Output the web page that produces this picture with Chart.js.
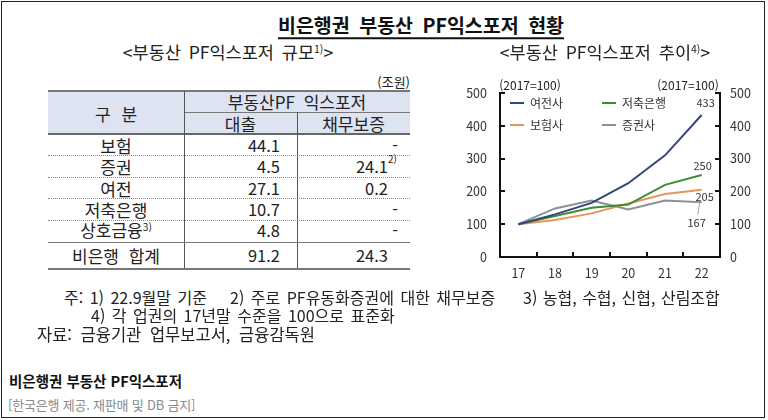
<!DOCTYPE html>
<html lang="ko"><head><meta charset="utf-8">
<script src="https://cdn.jsdelivr.net/npm/chart.js@4.4.0/dist/chart.umd.min.js"></script>
<style>
html,body{margin:0;padding:0;background:#fff;}
body{width:768px;height:420px;position:relative;overflow:hidden;font-family:"Noto Sans CJK KR","Noto Sans",sans-serif;color:#222;}
.frame{position:absolute;left:1px;top:1px;width:762px;height:415px;border:1px solid #222;}
.t{position:absolute;white-space:nowrap;line-height:1;}
.sup{font-size:0.6em;position:relative;top:-0.6em;}
.hang{position:absolute;left:100%;top:-0.35em;font-size:0.6em;}
.ln{position:absolute;}
</style>
</head><body>
<div class="frame"></div>
<canvas id="c" width="320" height="230" style="position:absolute;left:440px;top:60px;width:320px;height:230px"></canvas>
<script>
// ---------- data ----------
const years = ['17','18','19','20','21','22'];
const seriesNames = ['여전사','저축은행','보험사','증권사'];
const yeojeonsa = [100,130,165,225,310,433];
const jeochukBank = [100,125,150,160,220,250];
const boheomsa = [100,113,133,163,192,205];
const jeunggwonsa = [100,148,172,145,172,167];
const yTickValues = [0,100,200,300,400,500];

const tableCategories = ['보험','증권','여전','저축은행','상호금융','비은행 합계'];
const categoryNotes = ['','','','','3)',''];
const loanValues = ['44.1','4.5','27.1','10.7','4.8','91.2'];
const guaranteeValues = ['-','24.1','0.2','-','-','24.3'];
const guaranteeNotes = ['','2)','','','',''];

// ---------- text helpers ----------
function put(html, x, y, o={}){
  const d=document.createElement('div'); d.className='t';
  d.innerHTML=html;
  d.style.fontSize=(o.size||17)+'px';
  d.style.fontWeight=o.weight||400;
  d.style.color=o.color||'#222';
  d.style.left=x+'px'; d.style.top=y+'px';
  const a=o.align||'center';
  const tx=a==='center'?'-50%':(a==='right'?'-100%':'0');
  d.style.transform='translate('+tx+',-50%)';
  if(o.css) d.style.cssText+=o.css;
  document.body.appendChild(d); return d;
}
function line(x,y,w,h,css){
  const d=document.createElement('div'); d.className='ln';
  d.style.left=x+'px'; d.style.top=y+'px'; d.style.width=w+'px'; d.style.height=h+'px';
  d.style.cssText+=css; document.body.appendChild(d);
}

// ---------- titles ----------
put('비은행권 부동산 PF익스포저 현황',421,25,{size:19.5,weight:700,color:'#111',css:'word-spacing:4px;text-decoration:underline;text-underline-offset:4px;text-decoration-thickness:1.5px;'});
put('&lt;부동산 PF익스포저 규모<span class="sup">1)</span>&gt;',228,52,{size:17.5,css:'word-spacing:3px;'});
put('&lt;부동산 PF익스포저 추이<span class="sup">4)</span>&gt;',605,52,{size:17.5,css:'word-spacing:3px;'});
put('(조원)',410,81,{size:13,align:'right'});

// ---------- table ----------
const T={left:48,right:410,top:91,headMid:112,headBottom:134,rowH:21.4,totalTop:242,bottom:268,c1:184,c2:297};
line(T.left,T.top,T.right-T.left,T.headBottom-T.top,'background:#dde3f1;');
line(T.left,T.top-1,T.right-T.left,2,'background:#777;');
line(T.c1,T.headMid,T.right-T.c1,1,'background:#777;');
line(T.left,T.headBottom-1,T.right-T.left,2,'background:#666;');
line(T.c1,T.top,1,T.bottom-T.top,'background:#555;');
line(T.c2,T.headMid,1,T.bottom-T.headMid,'background:#555;');
for(let i=1;i<5;i++){
  line(T.left,Math.round(T.headBottom+i*T.rowH),T.right-T.left,0,'border-top:1px dotted #888;');
}
line(T.left,T.totalTop,T.right-T.left,1,'background:#777;');
line(T.left,T.bottom,T.right-T.left,1.5,'background:#777;');

put('구 분',(T.left+T.c1)/2,113,{size:17,css:'word-spacing:6px;'});
put('부동산PF 익스포저',(T.c1+T.right)/2,101,{size:17,css:'word-spacing:4px;'});
put('대출',(T.c1+T.c2)/2,123,{size:17});
put('채무보증',(T.c2+T.right)/2,123,{size:17});

tableCategories.forEach((cat,i)=>{
  const cy = i<5 ? T.headBottom+(i+0.5)*T.rowH : (T.totalTop+T.bottom)/2;
  const note = categoryNotes[i] ? '<span class="sup">'+categoryNotes[i]+'</span>' : '';
  put(cat+note,(T.left+T.c1)/2,cy,{size:17,css: i===5?'word-spacing:5px;':''});
  put(loanValues[i],280,cy,{size:16.5,align:'right'});
  const g=guaranteeValues[i];
  const gn = guaranteeNotes[i] ? '<span class="hang">'+guaranteeNotes[i]+'</span>' : '';
  put(g+gn, g==='-'?398:388, cy,{size:16.5,align:'right'});
});

// ---------- notes ----------
put('주: 1) 22.9월말 기준',64,297,{size:16,align:'left',css:'word-spacing:2px;'});
put('2) 주로 PF유동화증권에 대한 채무보증',230,297,{size:16,align:'left',css:'word-spacing:2px;'});
put('3) 농협, 수협, 신협, 산림조합',523,297,{size:16,align:'left',css:'word-spacing:1px;'});
put('4) 각 업권의 17년말 수준을 100으로 표준화',91,315,{size:16,align:'left',css:'word-spacing:2px;'});
put('자료: 금융기관 업무보고서, 금융감독원',37,334,{size:16.5,align:'left',css:'word-spacing:4px;'});
put('비은행권 부동산 PF익스포저',9,381,{size:14.5,weight:700,align:'left',color:'#111'});
put('[한국은행 제공. 재판매 및 DB 금지]',8,404,{size:13,align:'left',color:'#8a8a8a',css:'letter-spacing:-0.2px;'});

// ---------- chart ----------
put('(2017=100)',530,85,{size:12});
put('(2017=100)',688,85,{size:12});

const seriesData=[yeojeonsa,jeochukBank,boheomsa,jeunggwonsa];
const seriesColors=['#34467c','#3d8b33','#e8945a','#8d9199'];
const endLabelOffsets=[[4,-12],[1,-9],[3,7],[-5,21]];
const FONT='"Noto Sans CJK KR","Noto Sans",sans-serif';

const decor={
  id:'decor',
  afterDatasetsDraw(chart){
    const {ctx,chartArea:a,scales}=chart;
    const x=scales.x,y=scales.y;
    ctx.save();
    ctx.strokeStyle='#111'; ctx.lineWidth=2;
    yTickValues.forEach(v=>{
      if(v===0) return;
      const py=Math.round(y.getPixelForValue(v));
      ctx.beginPath(); ctx.moveTo(a.left,py); ctx.lineTo(a.left+5,py); ctx.stroke();
      ctx.beginPath(); ctx.moveTo(a.right,py); ctx.lineTo(a.right-5,py); ctx.stroke();
    });
    for(let i=0;i<years.length-1;i++){
      const px=Math.round((x.getPixelForValue(i)+x.getPixelForValue(i+1))/2);
      ctx.beginPath(); ctx.moveTo(px,a.bottom); ctx.lineTo(px,a.bottom-5); ctx.stroke();
    }
    // legend
    ctx.font='12px '+FONT; ctx.textBaseline='middle'; ctx.textAlign='left';
    chart.data.datasets.forEach((ds,i)=>{
      const col=i%2,row=Math.floor(i/2);
      const lx=a.left+10+col*92, ly=a.top+10+row*22;
      ctx.strokeStyle=ds.borderColor; ctx.lineWidth=2;
      ctx.beginPath(); ctx.moveTo(lx,ly); ctx.lineTo(lx+14,ly); ctx.stroke();
      ctx.fillStyle='#333'; ctx.fillText(ds.label,lx+20,ly+0.5);
    });
    // end labels
    ctx.font='11px '+FONT; ctx.textAlign='center'; ctx.fillStyle='#333';
    const n=years.length-1;
    chart.data.datasets.forEach((ds,i)=>{
      const v=ds.data[n];
      const px=x.getPixelForValue(n), py=y.getPixelForValue(v);
      const [dx,dy]=endLabelOffsets[i];
      ctx.fillText(String(v),px+dx,py+dy);
      if(i===3){
        ctx.strokeStyle='#aaa'; ctx.lineWidth=1;
        ctx.beginPath(); ctx.moveTo(px-2,py+1); ctx.lineTo(px-4,py+13); ctx.stroke();
      }
    });
    ctx.restore();
  }
};

const axisCommon={
  min:0,max:500,
  grid:{display:false,drawTicks:false},
  border:{display:true,color:'#111',width:2},
  afterBuildTicks(s){ s.ticks=yTickValues.map(v=>({value:v})); },
};

new Chart(document.getElementById('c'),{
  type:'line',
  data:{
    labels:years,
    datasets:seriesNames.map((nm,i)=>({
      label:nm,data:seriesData[i],borderColor:seriesColors[i],backgroundColor:seriesColors[i],
      borderWidth:2,pointRadius:0,tension:0,fill:false
    }))
  },
  options:{
    responsive:false,animation:false,devicePixelRatio:1,
    layout:{padding:{top:33,left:0,right:0,bottom:0}},
    plugins:{legend:{display:false},tooltip:{enabled:false}},
    scales:{
      x:{type:'category',offset:true,
        grid:{display:false,drawTicks:false},
        border:{display:true,color:'#111',width:2},
        ticks:{color:'#333',font:{family:FONT,size:12.5},padding:9,maxRotation:0},
        afterFit(s){s.height=33;}
      },
      y:Object.assign({},axisCommon,{position:'left',
        ticks:{color:'#333',font:{family:FONT,size:12.5},padding:13},
        afterFit(s){s.width=60;}}),
      y2:Object.assign({},axisCommon,{position:'right',
        ticks:{color:'#333',font:{family:FONT,size:12.5},padding:10},
        afterFit(s){s.width=40;}})
    }
  },
  plugins:[decor]
});
</script>
</body></html>
